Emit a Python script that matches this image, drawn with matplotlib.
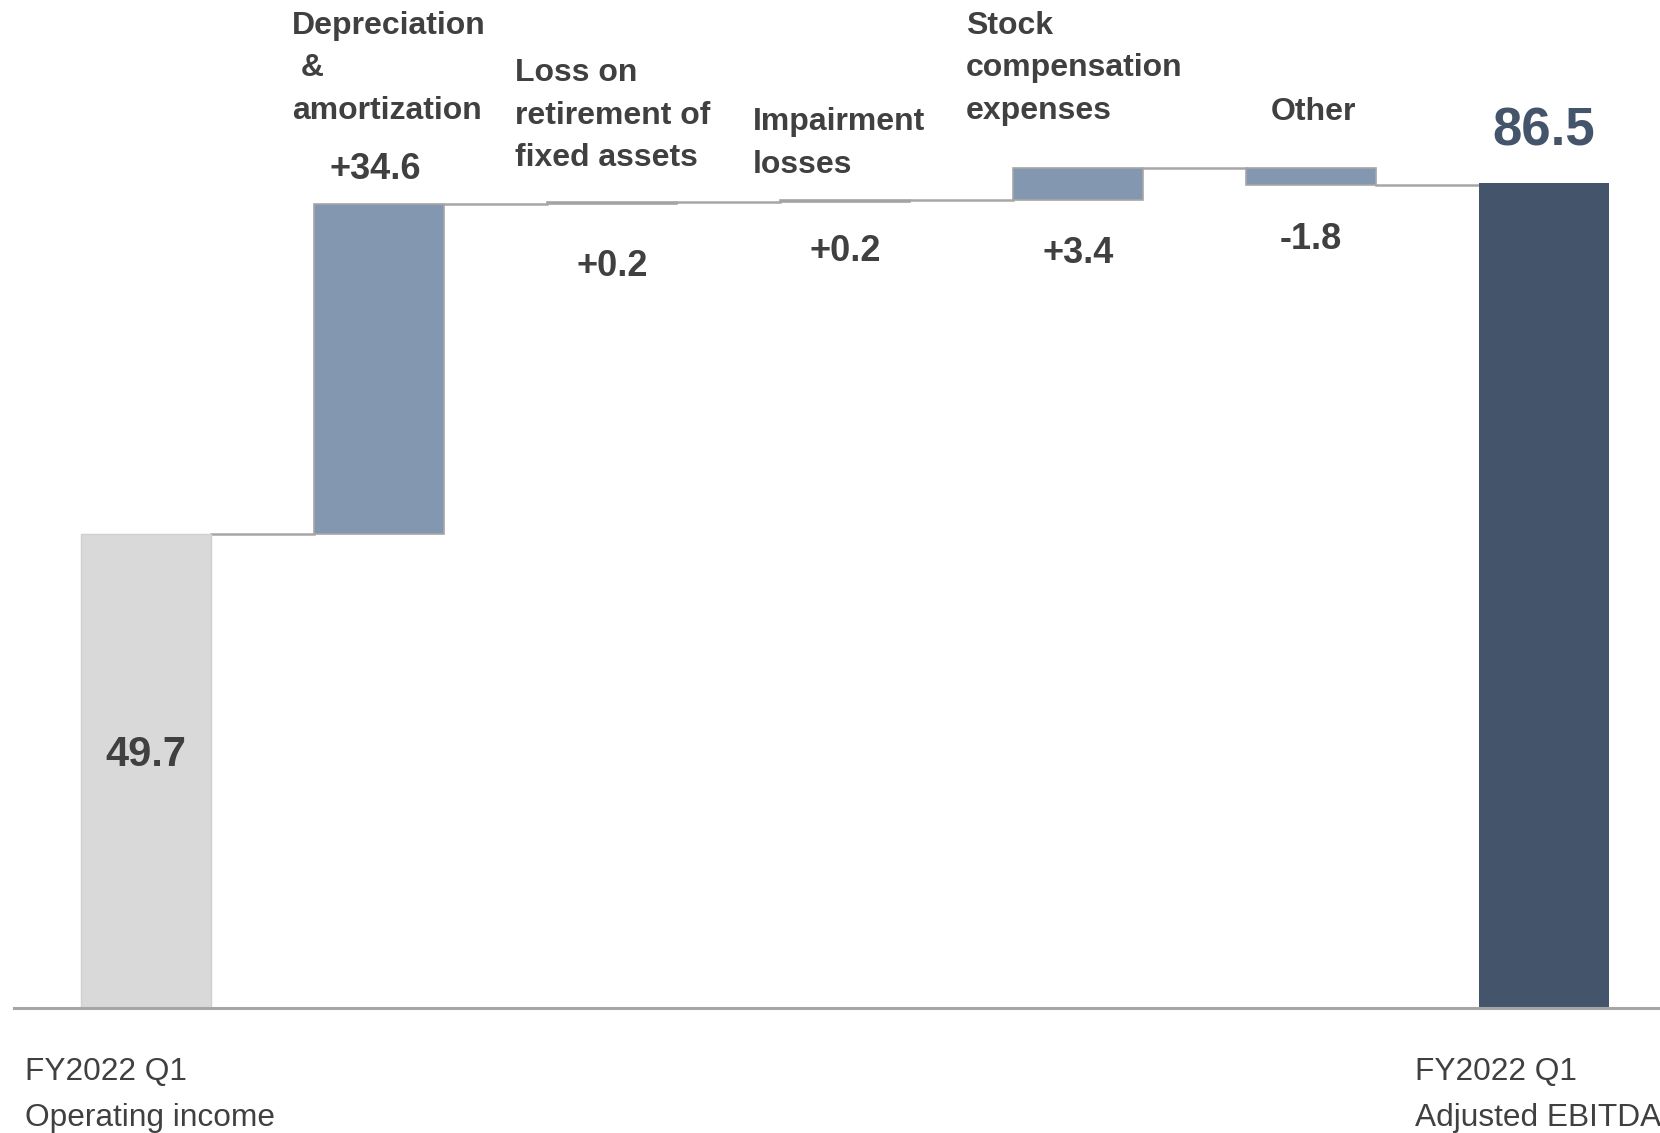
import matplotlib.pyplot as plt

plt.rcParams["font.family"] = ["Liberation Sans", "DejaVu Sans"]

# values (billion yen style waterfall)
start_label = ["FY2022 Q1", "Operating income"]
end_label = ["FY2022 Q1", "Adjusted EBITDA"]
start_value = 49.7
end_value = 86.5
step_names = [
    ["Depreciation", " &", "amortization"],
    ["Loss on", "retirement of", "fixed assets"],
    ["Impairment", "losses"],
    ["Stock", "compensation", "expenses"],
    ["Other"],
]
step_values = [34.6, 0.2, 0.2, 3.4, -1.8]

# layout of the annotations (data units)
name_x_offset = [-0.373, -0.416, -0.395, -0.481, -0.172]
name_y_top = [102.97, 98.02, 92.87, 102.97, 93.97]
value_x_offset = [-0.015, 0, 0, 0, 0]
value_y = [87.87, 77.77, 79.27, 79.07, 80.57]
LINE_STEP = 4.46

TEXT = "#404040"
START_C = "#D9D9D9"
STEP_C = "#8497B0"
END_C = "#44546A"
EDGE = "#A6A6A6"
W = 0.56

fig = plt.figure(figsize=(16.6, 11.33), dpi=100)
ax = fig.add_axes([0, 0, 1, 1])
ax.set_xlim(-0.627, 6.498)
ax.set_ylim(-13.11, 105.69)
ax.axis("off")

ax.bar(0, start_value, width=W, color=START_C, edgecolor="#CFCFCF", linewidth=1, zorder=2)
ax.text(0, 26.57, f"{start_value:.1f}", ha="center", va="center",
        fontsize=30, fontweight="bold", color=TEXT)

level = start_value
for i, v in enumerate(step_values):
    x = i + 1
    new_level = level + v
    bottom = min(level, new_level)
    ax.bar(x, abs(v), bottom=bottom, width=W, color=STEP_C, edgecolor=EDGE,
           linewidth=1.2, zorder=2)
    # connector from previous bar
    ax.plot([x - 1 + W / 2, x - W / 2], [level, level], color=EDGE, lw=1.8, zorder=1)
    sign = "+" if v > 0 else ""
    ax.text(x + value_x_offset[i], value_y[i], f"{sign}{v:.1f}", ha="center", va="center",
            fontsize=26, fontweight="bold", color=TEXT)
    for j, line in enumerate(step_names[i]):
        ax.text(x + name_x_offset[i], name_y_top[i] - j * LINE_STEP, line,
                ha="left", va="center", fontsize=23, fontweight="bold", color=TEXT)
    level = new_level

xe = len(step_values) + 1
ax.plot([xe - 1 + W / 2, xe - W / 2], [level, level], color=EDGE, lw=1.8, zorder=1)
ax.bar(xe, end_value, width=W, color=END_C, linewidth=0, zorder=2)
ax.text(xe, 91.87, f"{end_value:.1f}", ha="center", va="center",
        fontsize=38, fontweight="bold", color=END_C)

# baseline
ax.plot([-0.565, 6.6], [0, 0], color=EDGE, lw=2.2, zorder=3, clip_on=False)

for j, line in enumerate(start_label):
    ax.text(-0.519, -6.73 - j * 4.8, line, ha="left", va="center",
            fontsize=22.8, color=TEXT)
for j, line in enumerate(end_label):
    ax.text(5.446, -6.73 - j * 4.8, line, ha="left", va="center",
            fontsize=22.8, color=TEXT)

fig.savefig("out.png", dpi=100)
